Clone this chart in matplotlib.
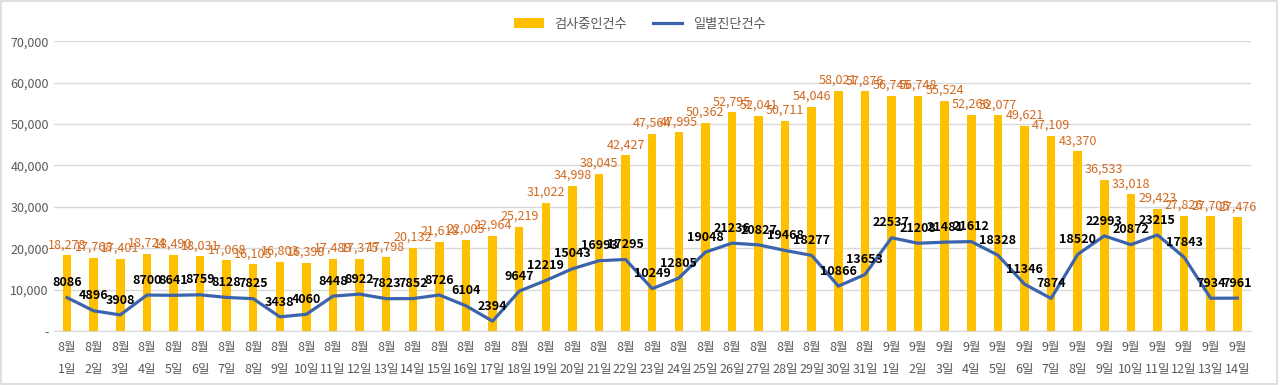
import matplotlib
matplotlib.use("Agg")
import matplotlib.pyplot as plt
import numpy as np
from matplotlib.patches import Rectangle
from matplotlib.ticker import FuncFormatter

plt.rcParams["font.family"] = ["Noto Sans CJK KR", "DejaVu Sans"]

months = [8] * 31 + [9] * 14
days = list(range(1, 32)) + list(range(1, 15))
testing = [18278, 17768, 17401, 18724, 18490, 18031, 17068, 16105, 16803, 16398,
           17489, 17375, 17798, 20132, 21618, 22005, 22964, 25219, 31022, 34998,
           38045, 42427, 47564, 47995, 50362, 52795, 52041, 50711, 54046, 58021,
           57876, 56745, 56748, 55524, 52266, 52077, 49621, 47109, 43370, 36533,
           33018, 29423, 27826, 27705, 27476]
daily = [8086, 4896, 3908, 8700, 8641, 8759, 8128, 7825, 3438, 4060,
         8448, 8922, 7823, 7852, 8726, 6104, 2394, 9647, 12219, 15043,
         16993, 17295, 10249, 12805, 19048, 21236, 20827, 19468, 18277, 10866,
         13653, 22537, 21208, 21481, 21612, 18328, 11346, 7874, 18520, 22993,
         20872, 23215, 17843, 7934, 7961]
labels = [f"{m}월\n{d}일" for m, d in zip(months, days)]

BAR_C = "#FFC000"
LINE_C = "#3B64AD"
BAR_LBL = "#D2691E"

fig = plt.figure(figsize=(12.8, 3.85), dpi=100)
ax = fig.add_axes([0.042, 0.14, 0.935, 0.753])
x = np.arange(len(labels))

bars = ax.bar(x, testing, width=0.32, color=BAR_C, label="검사중인건수", zorder=2)
line, = ax.plot(x, daily, color=LINE_C, linewidth=2.3, label="일별진단건수", zorder=3)

for xi, v in zip(x, testing):
    ax.annotate(f"{v:,}", (xi, v), xytext=(0, 3), textcoords="offset points",
                ha="center", va="bottom", fontsize=9, color=BAR_LBL, zorder=4)
for xi, v in zip(x, daily):
    ax.annotate(f"{v}", (xi, v), xytext=(0, 6), textcoords="offset points",
                ha="center", va="bottom", fontsize=9, fontweight="bold",
                color="black", zorder=5)

ax.set_xlim(-0.5, len(labels) - 0.5)
ax.set_ylim(0, 70000)
ax.set_yticks(range(0, 70001, 10000))
ax.yaxis.set_major_formatter(FuncFormatter(lambda v, p: "-" if v == 0 else f"{int(v):,}"))
ax.set_xticks(x)
ax.set_xticklabels(labels, linespacing=1.9)
ax.tick_params(axis="both", length=0, labelsize=9, labelcolor="#595959")
ax.tick_params(axis="x", pad=7)
ax.grid(axis="y", color="#D9D9D9", linewidth=1, zorder=0)
ax.set_axisbelow(True)
for s in ["top", "right", "left"]:
    ax.spines[s].set_visible(False)
ax.spines["bottom"].set_color("#D9D9D9")

fig.legend([bars, line], ["검사중인건수", "일별진단건수"], loc="upper center",
           bbox_to_anchor=(0.5, 0.985), ncol=2, frameon=False,
           fontsize=9.5, labelcolor="#595959", handlelength=2.2, columnspacing=2)

fig.patches.append(Rectangle((0.001, 0.002), 0.997, 0.995, transform=fig.transFigure,
                             fill=False, edgecolor="#D9D9D9", linewidth=1.2))

fig.savefig("out.png", dpi=100)
